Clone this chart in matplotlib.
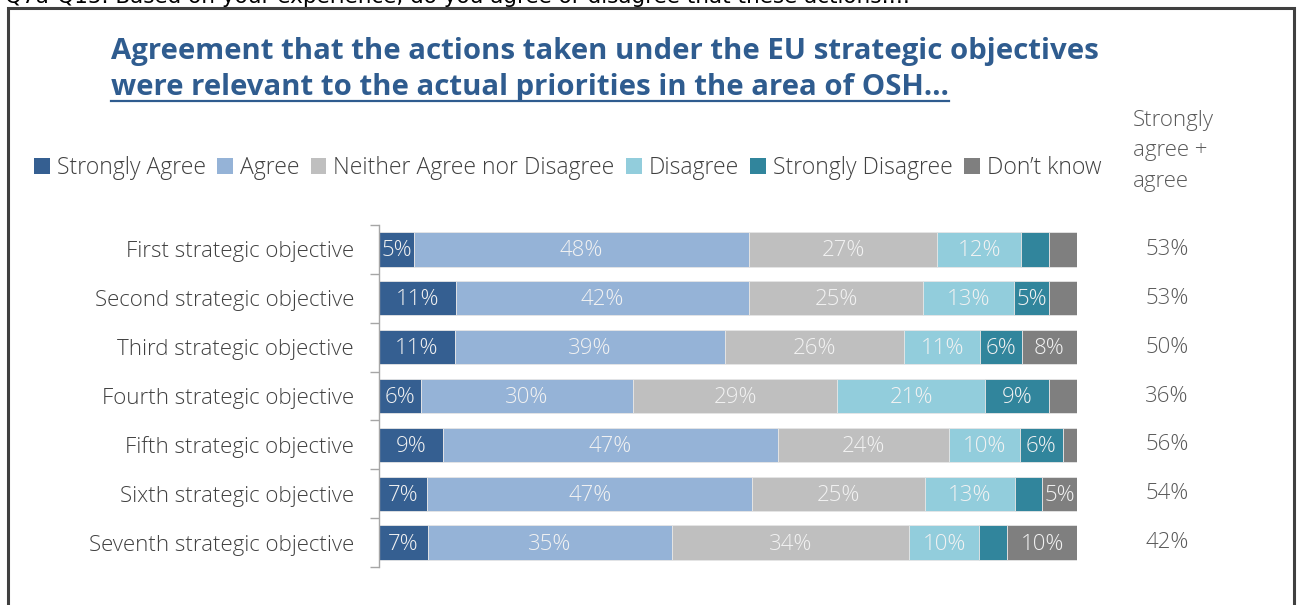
import matplotlib
matplotlib.use("Agg")
import matplotlib.pyplot as plt
from matplotlib.patches import Patch, Rectangle
from matplotlib.lines import Line2D
import numpy as np

plt.rcParams['font.family'] = ['Open Sans', 'DejaVu Sans']

# ---- data -------------------------------------------------------------
categories = [
    "First strategic objective",
    "Second strategic objective",
    "Third strategic objective",
    "Fourth strategic objective",
    "Fifth strategic objective",
    "Sixth strategic objective",
    "Seventh strategic objective",
]
series_names = ["Strongly Agree", "Agree", "Neither Agree nor Disagree",
                "Disagree", "Strongly Disagree", "Don\u2019t know"]
strongly_agree    = [5, 11, 11, 6, 9, 7, 7]
agree             = [48, 42, 39, 30, 47, 47, 35]
neither           = [27, 25, 26, 29, 24, 25, 34]
disagree          = [12, 13, 11, 21, 10, 13, 10]
strongly_disagree = [4, 5, 6, 9, 6, 4, 4]
dont_know         = [4, 4, 8, 4, 2, 5, 10]

# which segments carry a value label
label_mask = [
    [1, 1, 1, 1, 1, 1, 1],
    [1, 1, 1, 1, 1, 1, 1],
    [1, 1, 1, 1, 1, 1, 1],
    [1, 1, 1, 1, 1, 1, 1],
    [0, 1, 1, 1, 1, 0, 0],
    [0, 0, 1, 0, 0, 1, 1],
]

colors = ["#355F91", "#95B3D7", "#BFBFBF", "#92CDDC", "#31859C", "#7F7F7F"]

title_line1 = "Agreement that the actions taken under the EU strategic objectives"
title_line2 = "were relevant to the actual priorities in the area of OSH\u2026"
question = "Q7a-Q15. Based on your experience, do you agree or disagree that these actions\u2026."
side_header = "Strongly\nagree +\nagree"

# ---- figure -----------------------------------------------------------
W, H = 1300, 605
fig = plt.figure(figsize=(W / 100, H / 100), dpi=100)
fig.patch.set_facecolor("white")


def fx(px):
    return px / W


def fy(py):
    return 1 - py / H


# frame around the chart
frame = Rectangle((fx(8), fy(640)), fx(1294) - fx(8), fy(8) - fy(640),
                  transform=fig.transFigure, fill=False,
                  edgecolor="#404040", linewidth=2.2, zorder=0)
fig.add_artist(frame)

# question text above the frame (runs off the top edge)
fig.text(fx(5), fy(3), question, fontsize=15.5, color="#000000",
         family="DejaVu Sans", ha="left", va="baseline")

# title
title_color = "#2F5C8F"
fig.text(fx(111), fy(51), title_line1, fontsize=21.2, fontweight="bold",
         color=title_color, ha="left", va="center")
t2 = fig.text(fx(111), fy(88), title_line2, fontsize=21.2, fontweight="bold",
              color=title_color, ha="left", va="center")

# ---- bars -------------------------------------------------------------
ax = fig.add_axes([fx(379), fy(567), fx(1077) - fx(379), fy(225) - fy(567)])
series = [strongly_agree, agree, neither, disagree, strongly_disagree, dont_know]
data = np.array(series, dtype=float)
totals = data.sum(axis=0)
shares = data / totals * 100.0
y = np.arange(len(categories))
left = np.zeros(len(categories))
for i, (name, vals, shr) in enumerate(zip(series_names, series, shares)):
    ax.barh(y, shr, left=left, height=0.7, color=colors[i],
            edgecolor="#E6E6E6", linewidth=0.6, label=name)
    for j in range(len(categories)):
        if label_mask[i][j]:
            ax.text(left[j] + shr[j] / 2, y[j] + 0.03, f"{vals[j]}%",
                    ha="center", va="center", fontsize=16,
                    fontweight="light", color="#F2F2F2")
    left = left + shr

ax.set_xlim(0, 100)
ax.set_ylim(len(categories) - 0.5, -0.5)
ax.set_xticks([])
ax.set_yticks(y)
ax.set_yticklabels(categories, fontsize=16, color="#404040", fontweight="light")
ax.tick_params(axis="y", which="major", length=0, pad=18)
ax.set_yticks(np.arange(-0.5, len(categories)), minor=True)
ax.tick_params(axis="y", which="minor", length=6.5, width=1, color="#A6A6A6")
for s in ["top", "right", "bottom"]:
    ax.spines[s].set_visible(False)
ax.spines["left"].set_color("#A6A6A6")
ax.spines["left"].set_linewidth(1)

# strongly agree + agree column
sum_agree = [a + b for a, b in zip(strongly_agree, agree)]
col_x = (1167 - 379) / (1077 - 379) * 100
for j, v in enumerate(sum_agree):
    ax.text(col_x, y[j], f"{v}%", ha="center", va="center", fontsize=16,
            color="#595959", fontweight="light", clip_on=False)
fig.text(fx(1133), fy(110), side_header, fontsize=16, color="#595959",
         ha="left", va="top", linespacing=1.58, fontweight="light")

# legend
handles = [Patch(facecolor=c, edgecolor="none") for c in colors]
leg = fig.legend(handles, series_names, loc="center left",
                 bbox_to_anchor=(fx(34), fy(168)), ncol=6, frameon=False,
                 fontsize=16.6, handlelength=0.68, handleheight=0.68,
                 handletextpad=0.3, columnspacing=0.5, borderaxespad=0,
                 borderpad=0)
for t in leg.get_texts():
    t.set_color("#404040")
    t.set_fontweight("light")

# underline the second title line
fig.canvas.draw()
bb = t2.get_window_extent(renderer=fig.canvas.get_renderer())
uy = fy(101)
fig.add_artist(Line2D([bb.x0 / W, bb.x1 / W], [uy, uy],
                      transform=fig.transFigure, color=title_color,
                      linewidth=1.6))

fig.savefig("out.png", dpi=100, facecolor="white")
